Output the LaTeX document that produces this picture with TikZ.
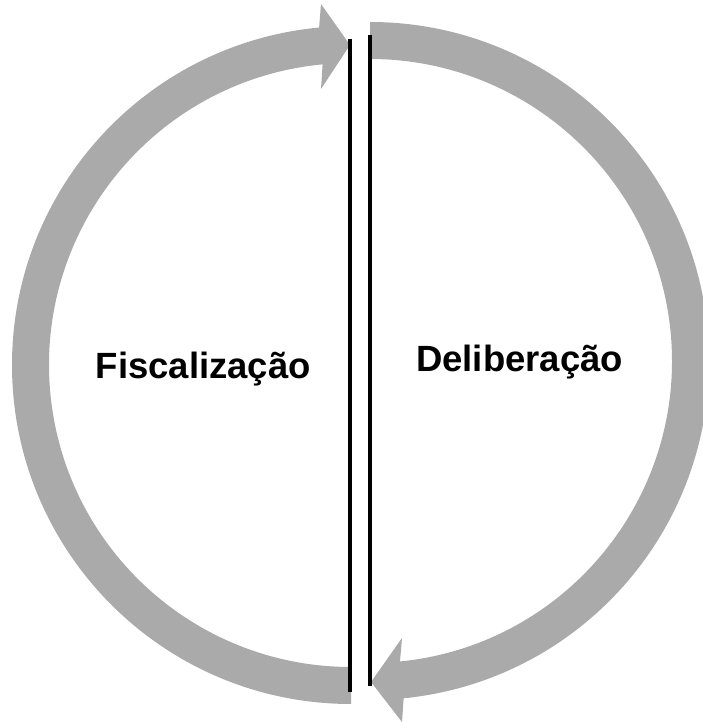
\documentclass[tikz,border=0pt]{standalone}
\usepackage{fontspec}
\setmainfont{Liberation Sans}
\usetikzlibrary{calc}
\definecolor{arrowgray}{RGB}{170,170,170}
\tikzset{
  cyclearrow/.style={fill=arrowgray, draw=none},
  divider/.style={draw=black, line width=4.6pt, line cap=butt},
  label/.style={inner sep=0pt, anchor=base west, font=\fontsize{36.5}{43}\selectfont\bfseries}
}
\begin{document}
\begin{tikzpicture}[x=1pt,y=1pt]
\useasboundingbox (0,0) rectangle (702,723);
% left arc (Fiscalização), arrowhead at top pointing right
\path[cyclearrow] (351,19) arc[start angle=270, end angle=95.4, radius=339pt]
  -- (321,719) -- (350,678) -- (321,634)
  -- ($(351,358)+(95.4:302pt)$) arc[start angle=95.4, end angle=270, radius=302pt] -- cycle;
% right arc (Deliberação), arrowhead at bottom pointing left
\path[cyclearrow] (370,701) arc[start angle=90, end angle=-84.3, radius=339pt]
  -- (402,1) -- (371,41) -- (402,85)
  -- ($(370,362)+(-84.3:302pt)$) arc[start angle=-84.3, end angle=90, radius=302pt] -- cycle;
% dividing lines
\coordinate (l1) at (350,684);
\coordinate (l2) at (350,31);
\coordinate (r1) at (370,688);
\coordinate (r2) at (370,37);
\draw[divider] (l1) -- (l2);
\draw[divider] (r1) -- (r2);
% labels
\node[label] (fisc) at (95.5,344) {Fiscalização};
\node[label] (delib) at (416,351) {Deliberação};
\end{tikzpicture}
\end{document}
